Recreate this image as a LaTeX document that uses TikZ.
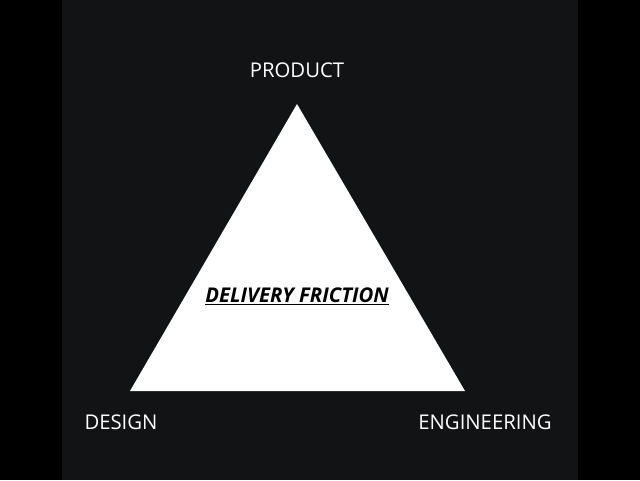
\documentclass[tikz,border=0pt]{standalone}
\usepackage{fontspec}
\setmainfont{Open Sans}
\usetikzlibrary{positioning}

\definecolor{panel}{RGB}{18,19,21}

\tikzset{
	corner/.style={text=white, font=\fontsize{20.3}{24}\selectfont},
}

\begin{document}
\begin{tikzpicture}[x=1pt, y=1pt]
		\fill[black] (0,0) rectangle (640,480);
		\fill[panel] (62,0) rectangle (578,480);
		\useasboundingbox (0,0) rectangle (640,480);

		\coordinate (p) at (297,376);
		\coordinate (d) at (130,89);
		\coordinate (e) at (465,89);

		\fill[white] (p) -- (d) -- (e) -- cycle;

		\draw (297,410) node [corner] (product) {PRODUCT};
		\draw (121,58) node [corner] (design) {DESIGN};
		\draw (485,58) node [corner] (engineering) {ENGINEERING};
		\draw (297,184) node [font=\fontsize{20.3}{24}\selectfont\bfseries\itshape] (friction) {\underline{DELIVERY FRICTION}};
	\end{tikzpicture}
\end{document}
